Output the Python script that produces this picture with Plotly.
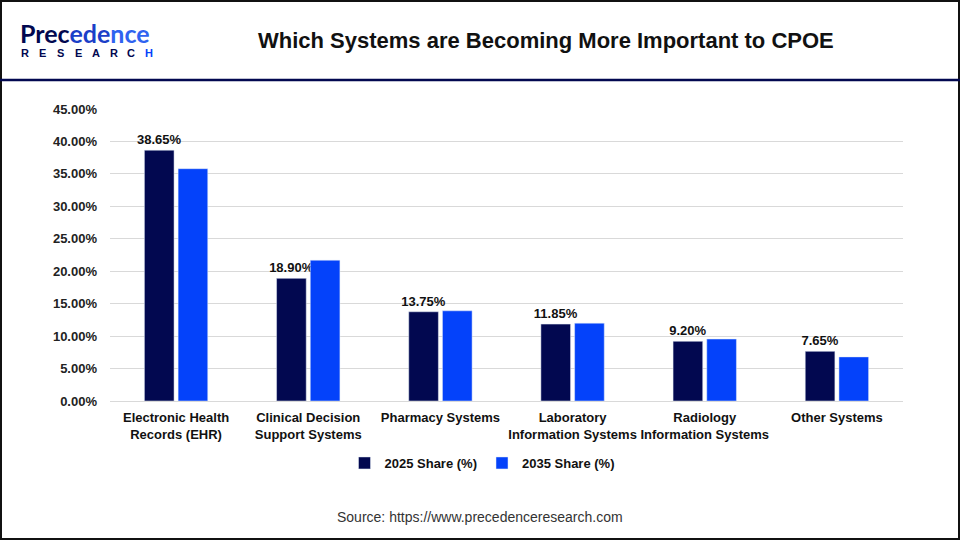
import plotly.graph_objects as go

# ----- Data -----
categories = [
    "Electronic Health<br>Records (EHR)",
    "Clinical Decision<br>Support Systems",
    "Pharmacy Systems",
    "Laboratory<br>Information Systems",
    "Radiology<br>Information Systems",
    "Other Systems",
]
share_2025 = [38.65, 18.90, 13.75, 11.85, 9.20, 7.65]
share_2035 = [35.8, 21.7, 13.9, 12.0, 9.55, 6.8]
y_ticks = [0, 5, 10, 15, 20, 25, 30, 35, 40, 45]

NAVY = "#020850"
BLUE = "#0442FA"
W, H = 960, 540
L, R, T, B = 110, 57, 109, 139   # plot area in pixels


def px_x(p):
    return (p - L) / (W - L - R)


def px_y(p):
    return (H - B - p) / (H - T - B)


fig = go.Figure()
fig.add_trace(go.Bar(
    x=categories, y=share_2025, name="2025 Share (%)", marker_color=NAVY,
    text=[f"{v:.2f}%" for v in share_2025], textposition="outside", constraintext="none",
    textfont=dict(family="Arial", size=13, color="#111", weight="bold"),
    cliponaxis=False,
))
fig.add_trace(go.Bar(
    x=categories, y=share_2035, name="2035 Share (%)", marker_color=BLUE,
))

fig.update_layout(
    width=W, height=H,
    margin=dict(l=L, r=R, t=T, b=B),
    paper_bgcolor="white", plot_bgcolor="white",
    barmode="group", bargap=0.49, bargroupgap=0.12,
    showlegend=True,
    legend=dict(
        orientation="h", x=px_x(482), y=px_y(463), xanchor="center", yanchor="middle",
        font=dict(family="Arial", size=13, color="#111", weight="bold"),
        itemwidth=30, traceorder="normal",
    ),
    font=dict(family="Arial", color="#111"),
)
fig.update_yaxes(
    range=[0, 45], tickvals=y_ticks, ticktext=[f"{v:.2f}%" for v in y_ticks],
    showgrid=True, gridcolor="#d9d9d9", gridwidth=1, zeroline=False,
    showline=False, ticks="", ticklen=0, ticklabelstandoff=12,
    tickfont=dict(family="Arial", size=13, color="#222", weight="bold"),
)
fig.update_xaxes(
    showline=True, linecolor="#d9d9d9", linewidth=1, ticks="", ticklabelstandoff=4,
    tickfont=dict(family="Arial", size=13, color="#111", weight="bold"),
)

# ----- Header: title, logo, frame -----
ann = [
    dict(text="<b>Which Systems are Becoming More Important to CPOE</b>",
         x=px_x(546), y=px_y(40), xanchor="center", yanchor="middle",
         font=dict(family="Arial", size=22, color="#111")),
    dict(text="Source: https://www.precedenceresearch.com",
         x=px_x(480), y=px_y(517), xanchor="center", yanchor="middle",
         font=dict(family="Arial", size=14, color="#333")),
    dict(text=f"<span style='color:{NAVY}'>Prec</span><span style='color:#1b3fc8'>ede</span>"
              f"<span style='color:#2f63f0'>nce</span>",
         x=px_x(18), y=px_y(33), xanchor="left", yanchor="middle",
         font=dict(family="Lato", size=25, color=NAVY, weight="bold")),
]
for i, ch in enumerate("RESEARCH"):
    ann.append(dict(text=ch, x=px_x(25 + i * 17.7), y=px_y(53), xanchor="center", yanchor="middle",
                    font=dict(family="Arial", size=11, weight="bold",
                              color=BLUE if i == 7 else NAVY)))
for a in ann:
    a.update(xref="paper", yref="paper", showarrow=False)
fig.update_layout(annotations=ann)

fig.update_layout(shapes=[
    dict(type="rect", xref="paper", yref="paper", x0=px_x(1), x1=px_x(959), y0=px_y(1), y1=px_y(539),
         line=dict(color="#111", width=2), fillcolor="rgba(0,0,0,0)"),
    dict(type="line", xref="paper", yref="paper", x0=px_x(0), x1=px_x(960), y0=px_y(80), y1=px_y(80),
         line=dict(color=NAVY, width=2.5)),
])

# drop the browser's default body margin so the figure fills the window
fig.write_html("out.html", config={"displayModeBar": False},
               post_script="document.body.style.margin='0';document.body.style.overflow='hidden';")
